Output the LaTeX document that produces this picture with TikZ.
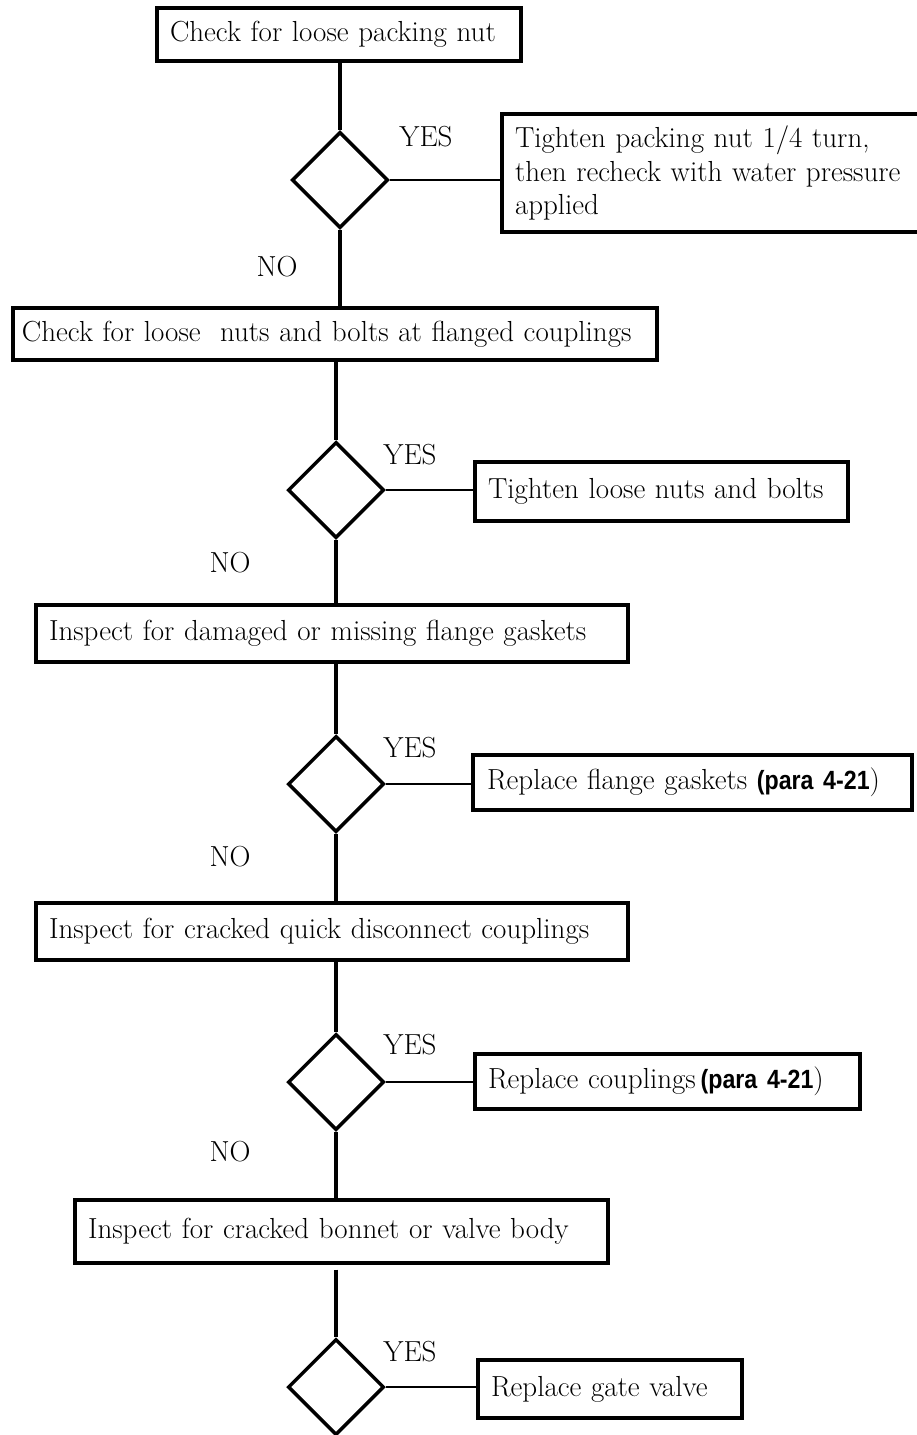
\documentclass[tikz,border=0pt]{standalone}
\usepackage{fontspec}
\newfontfamily\parafont[FakeStretch=0.88]{Liberation Sans}
\usepackage{tikz}
\usetikzlibrary{shapes.geometric}
\newcommand{\pararef}[1]{{\parafont\fontsize{15}{17}\selectfont\bfseries (#1}}
\tikzset{
  checkbox/.style={
    rectangle,
    draw=black,
    line width=1.9pt,
    align=left,
    inner xsep=0.26cm,
    inner ysep=0pt,
    font=\fontsize{16.5}{19.2}\selectfont
  },
  decision/.style={
    diamond,
    draw=black,
    line width=2pt,
    minimum width=1.92cm,
    minimum height=1.92cm,
    inner sep=0pt
  },
  answer/.style={
    font=\fontsize{16.5}{18}\selectfont,
    inner sep=0pt
  },
  stemline/.style={
    line width=2pt,
    draw=black
  },
  yesline/.style={
    line width=1.3pt,
    draw=black
  }
}

\begin{document}
\begin{tikzpicture}
\useasboundingbox (0,0) rectangle (18.34,-28.70);

\node[checkbox, text width=6.76cm, minimum height=1.06cm] (check1) at (6.78,-0.69) {Check for loose packing nut};
\node[decision] (dec1) at (6.80,-3.60) {};
\node[checkbox, text width=8.30cm, minimum height=2.36cm] (fix1) at (14.45,-3.46) {Tighten packing nut 1/4 turn,\\then recheck with water pressure\\applied};
\node[answer] (yes1) at (8.52,-2.74) {YES};
\node[answer] (no1) at (5.54,-5.34) {NO};

\node[checkbox, inner xsep=0.18cm, text width=12.52cm, minimum height=1.04cm] (check2) at (6.70,-6.68) {Check for loose\ \ nuts and bolts at flanged couplings};
\node[decision] (dec2) at (6.72,-9.80) {};
\node[checkbox, text width=6.94cm, minimum height=1.18cm] (fix2) at (13.23,-9.83) {Tighten loose nuts and bolts};
\node[answer] (yes2) at (8.20,-9.10) {YES};
\node[answer] (no2) at (4.60,-11.26) {NO};

\node[checkbox, text width=11.32cm, minimum height=1.14cm] (check3) at (6.64,-12.67) {Inspect for damaged or missing flange gaskets};
\node[decision] (dec3) at (6.72,-15.68) {};
\node[checkbox, inner xsep=0.28cm, text width=8.22cm, minimum height=1.10cm] (fix3) at (13.85,-15.65) {Replace flange gaskets \pararef{para 4-21})};
\node[answer] (yes3) at (8.20,-14.96) {YES};
\node[answer] (no3) at (4.60,-17.14) {NO};

\node[checkbox, text width=11.32cm, minimum height=1.14cm] (check4) at (6.64,-18.63) {Inspect for cracked quick disconnect couplings};
\node[decision] (dec4) at (6.72,-21.64) {};
\node[checkbox, text width=7.18cm, minimum height=1.10cm] (fix4) at (13.35,-21.63) {Replace couplings\,\pararef{para 4-21})};
\node[answer] (yes4) at (8.20,-20.90) {YES};
\node[answer] (no4) at (4.60,-23.04) {NO};

\node[checkbox, text width=10.14cm, minimum height=1.26cm] (check5) at (6.83,-24.63) {Inspect for cracked bonnet or valve body};
\node[decision] (dec5) at (6.72,-27.74) {};
\node[checkbox, text width=4.76cm, minimum height=1.16cm] (fix5) at (12.20,-27.78) {Replace gate valve};
\node[answer] (yes5) at (8.20,-27.04) {YES};

% stems between the steps
\draw[stemline] (check1.south -| dec1.north) -- (dec1.north);
\draw[stemline] (dec1.south) -- (dec1.south |- check2.north);
\draw[stemline] (check2.south -| dec2.north) -- (dec2.north);
\draw[stemline] (dec2.south) -- (dec2.south |- check3.north);
\draw[stemline] (check3.south -| dec3.north) -- (dec3.north);
\draw[stemline] (dec3.south) -- (dec3.south |- check4.north);
\draw[stemline] (check4.south -| dec4.north) -- (dec4.north);
\draw[stemline] (dec4.south) -- (dec4.south |- check5.north);
\draw[stemline] ([yshift=-0.1cm]check5.south -| dec5.north) -- (dec5.north);

% yes branches
\draw[yesline] (dec1.east) -- (dec1.east -| fix1.west);
\draw[yesline] (dec2.east) -- (dec2.east -| fix2.west);
\draw[yesline] (dec3.east) -- (dec3.east -| fix3.west);
\draw[yesline] (dec4.east) -- (dec4.east -| fix4.west);
\draw[yesline] (dec5.east) -- (dec5.east -| fix5.west);
\end{tikzpicture}
\end{document}
